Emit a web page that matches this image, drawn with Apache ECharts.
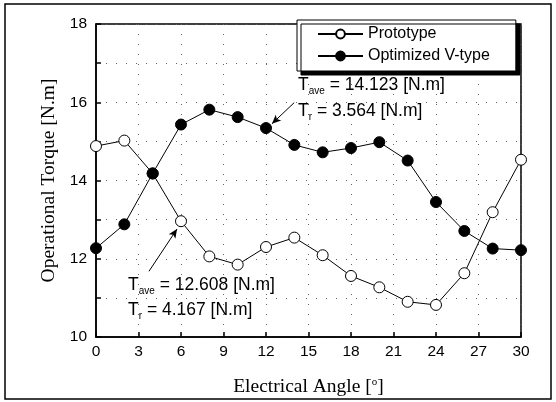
<!DOCTYPE html>
<html><head><meta charset="utf-8">
<script src="https://cdn.jsdelivr.net/npm/echarts@6/dist/echarts.min.js"></script>
<style>html,body{margin:0;padding:0;background:#fff}#c{width:556px;height:402px}</style>
</head><body><div id="c"></div>
<script>
const angles = [0,2,4,6,8,10,12,14,16,18,20,22,24,26,28,30];
const prototype = [14.88,15.02,14.18,12.96,12.06,11.85,12.30,12.54,12.09,11.56,11.27,10.90,10.82,11.63,13.19,14.53];
const optimized = [12.27,12.88,14.18,15.43,15.81,15.62,15.34,14.91,14.72,14.83,14.98,14.51,13.45,12.71,12.26,12.22];
const seriesNames = ['Prototype','Optimized V-type'];
const xTicks = [0,3,6,9,12,15,18,21,24,27,30];
const yTicks = [10,12,14,16,18];
const arrows = [
  {from:[13.99,15.99], to:[12.42,15.45]},
  {from:[3.74,11.68], to:[5.72,12.76]}
];

const chart = echarts.init(document.getElementById('c'));
const font = 'Liberation Sans, Arial, sans-serif';
const serif = 'Liberation Serif, Times New Roman, serif';
function pair(a){ return angles.map((x,i)=>[x,a[i]]); }
const sub = {
  t:{fontSize:17.5,fontFamily:font,color:'#000'},
  s:{fontSize:10,fontFamily:font,color:'#000',padding:[13,0,0,0]}
};
chart.setOption({
  animation:false,
  backgroundColor:'#fff',
  grid:{left:96,right:35,top:24,bottom:64,show:true,borderColor:'#000',borderWidth:1.5,backgroundColor:'transparent'},
  xAxis:{type:'value',min:0,max:30,interval:3,
    name:'{a|Electrical Angle [}{s|o}{a|]}',nameLocation:'middle',nameGap:40,
    nameTextStyle:{rich:{a:{fontFamily:serif,fontSize:19.5,color:'#000'},s:{fontFamily:serif,fontSize:11,color:'#000',padding:[0,0,9,0]}}},
    axisLine:{lineStyle:{color:'#000',width:1.5}},
    axisTick:{inside:true,length:5,lineStyle:{color:'#000',width:1.5}},
    axisLabel:{fontFamily:font,fontSize:15.5,color:'#000',margin:7,
      formatter:v=>xTicks.indexOf(v)>=0?String(v):''},
    splitLine:{show:true,lineStyle:{color:'#666',type:[1,9],width:1}}
  },
  yAxis:{type:'value',min:10,max:18,interval:1,
    name:'Operational Torque [N.m]',nameLocation:'middle',nameGap:35,
    nameTextStyle:{fontFamily:serif,fontSize:19.5,color:'#000'},
    axisLine:{lineStyle:{color:'#000',width:1.5}},
    axisTick:{inside:true,length:5,lineStyle:{color:'#000',width:1.5}},
    axisLabel:{fontFamily:font,fontSize:15.5,color:'#000',margin:9,
      formatter:v=>yTicks.indexOf(v)>=0?String(v):''},
    splitLine:{show:true,lineStyle:{color:'#666',type:[1,9],width:1}}
  },
  legend:{orient:'vertical',left:297,top:20,itemWidth:45,itemHeight:11,itemGap:6,
    padding:[6,26,7,20],backgroundColor:'#fff',borderColor:'#000',borderWidth:1,
    shadowColor:'#000',shadowOffsetX:4,shadowOffsetY:4,shadowBlur:0.01,
    textStyle:{fontFamily:font,fontSize:16,color:'#000'},
    data:seriesNames},
  series:[
    {name:seriesNames[0],type:'line',data:pair(prototype),symbol:'circle',symbolSize:11,
      lineStyle:{color:'#000',width:1},itemStyle:{color:'#fff',borderColor:'#000',borderWidth:1},z:2},
    {name:seriesNames[1],type:'line',data:pair(optimized),symbol:'circle',symbolSize:11,
      lineStyle:{color:'#000',width:1},itemStyle:{color:'#000',borderColor:'#000',borderWidth:1},z:3,
      markLine:{silent:true,symbol:['none','arrow'],symbolSize:[6,9],label:{show:false},
        lineStyle:{color:'#000',width:1,type:'solid'},
        data:arrows.map(a=>[{coord:a.from},{coord:a.to}])}}
  ],
  graphic:[
    {type:'rect',shape:{x:5,y:4,width:546,height:395},style:{fill:'none',stroke:'#000',lineWidth:1.5},z:-10},
    {type:'text',left:298,top:76,style:{text:'{t|T}{s|ave}{t| = 14.123 [N.m]}',rich:sub}},
    {type:'text',left:298,top:102,style:{text:'{t|T}{s|r}{t| = 3.564 [N.m]}',rich:sub}},
    {type:'text',left:128,top:276,style:{text:'{t|T}{s|ave}{t| = 12.608 [N.m]}',rich:sub}},
    {type:'text',left:128,top:301,style:{text:'{t|T}{s|r}{t| = 4.167 [N.m]}',rich:sub}}
  ]
});
</script></body></html>
